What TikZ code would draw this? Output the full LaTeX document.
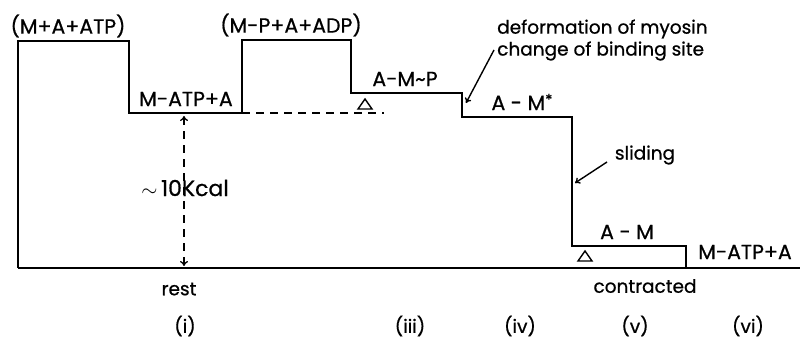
\documentclass[tikz,border=0pt]{standalone}
\usepackage{fontspec}
\setmainfont{Poppins}
\newfontfamily\lettering{Poppins}[FakeBold=0.7]
\usetikzlibrary{arrows.meta}
\tikzset{
  lbl/.style={inner sep=0pt, font=\lettering\fontsize{20.5}{22}\selectfont},
  small/.style={inner sep=0pt, font=\lettering\fontsize{18.5}{20}\selectfont},
  level/.style={line width=2pt, line join=miter},
  ptr/.style={line width=1.4pt, -{To[length=5pt,width=7pt]}},
  tri/.style={line width=1.4pt},
}
\begin{document}
\begin{tikzpicture}[x=1pt,y=-1pt]
\useasboundingbox (0,0) rectangle (803,340);
% corners of the energy levels
\coordinate (b0) at (18,268);
\coordinate (b1) at (800,268);
\draw[level] (b0) -- (b1);
\draw[level] (b0) -- (18,41) -- (129,41) -- (129,113) -- (242,113) -- (242,40)
  -- (351,40) -- (351,93) -- (462,93) -- (462,117) -- (572,117) -- (572,246)
  -- (686,246) -- (686,268);
% dashed reference line
\coordinate (d0) at (242,113);
\coordinate (d1) at (384,113);
\draw[line width=1.4pt, dash pattern=on 8pt off 6pt] (d0) -- (d1);
% triangles
\draw[tri] (358,109) -- (372,109) -- (365,99) -- cycle;
\draw[tri] (578,261) -- (592,261) -- (585,251) -- cycle;
% energy arrow
\coordinate (e0) at (184,116);
\coordinate (e1) at (184,266);
\draw[line width=1.3pt, dash pattern=on 8pt off 6pt, {To[length=5pt,width=8pt]}-{To[length=5pt,width=8pt]}] (e0) -- (e1);
\node[lbl, font=\lettering\fontsize{22}{24}\selectfont] (kcal) at (185,188) {$\sim$\,10Kcal};
% labels
\node[lbl] (s1) at (68,26) {(M+A+ATP)};
\node[lbl] (s2) at (186,99) {M-ATP+A};
\node[lbl] (s3) at (291,25) {(M-P+A+ADP)};
\node[lbl] (s4) at (405,79) {A-M\textasciitilde P};
\node[lbl] (s5) at (522,102) {A - M\raisebox{5pt}{\fontsize{15}{15}\selectfont *}};
\node[lbl] (s6) at (627,232) {A - M};
\node[lbl] (s7) at (745,252) {M-ATP+A};
\node[small, anchor=west] (def1) at (497,29) {deformation of myosin};
\node[small, anchor=west] (def2) at (497,51) {change of binding site};
\node[small] (sl) at (645,155) {sliding};
\node[small] (rest) at (179,289) {rest};
\node[small] (contr) at (645,286) {contracted};
\node[small] (p1) at (185,326) {(i)};
\node[small] (p3) at (410,326) {(iii)};
\node[small] (p4) at (520,326) {(iv)};
\node[small] (p5) at (635,326) {(v)};
\node[small] (p6) at (748,326) {(vi)};
% pointer arrows
\coordinate (a0) at (494,50);
\coordinate (a1) at (466,103);
\draw[ptr] (a0) -- (a1);
\coordinate (c0) at (607,162);
\coordinate (c1) at (575,183);
\draw[ptr] (c0) -- (c1);
\end{tikzpicture}
\end{document}
